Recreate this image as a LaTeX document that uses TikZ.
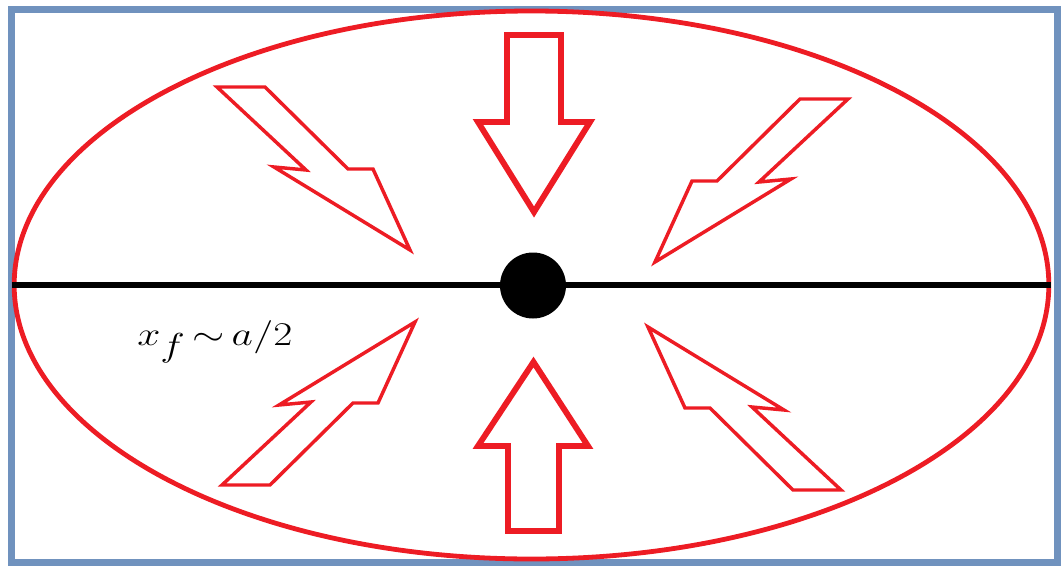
\documentclass[tikz,border=0pt]{standalone}
\usepackage{amsmath}
\usepackage{graphicx}
\usepackage{tikz}
\usetikzlibrary{shapes.geometric}
\definecolor{boltred}{RGB}{237,28,36}
\definecolor{frameblue}{RGB}{112,146,190}

\begin{document}
\begin{tikzpicture}[x=0.75pt,y=-0.75pt,line join=miter,
   frame/.style={draw=frameblue,line width=5.25pt},
   rim/.style={draw=boltred,line width=3.6pt},
   push/.style={draw=boltred,line width=4.4pt},
   boltline/.style={draw=boltred,line width=2.6pt},
   bolt/.pic={\draw[boltline] (0,0) -- (-136,-83) -- (-104,-80) -- (-193,-163)
                -- (-145,-163) -- (-62,-81) -- (-37,-81) -- cycle;}]
  \useasboundingbox (0,0) rectangle (1061,565);
  \draw[frame] (11,9) rectangle (1057,562);
  % pressure boundary and axis
  \node[ellipse,rim,minimum width=776pt,minimum height=411pt,inner sep=0pt] (blob) at (531.5,285) {};
  \draw[line width=3.8pt] (blob.west) -- (blob.east);
  \node[circle,fill=black,minimum size=49.5pt,inner sep=0pt] (core) at (533,285.5) {};
  % block arrows
  \draw[push] (507,35) -- (561,35) -- (561,122) -- (590,122) -- (534,212)
       -- (478,122) -- (507,122) -- cycle;
  \draw[push] (508,531) -- (559,531) -- (559,446) -- (588,446) -- (533.5,362)
       -- (478,446) -- (508,446) -- cycle;
  % lightning bolts
  \foreach \px/\py/\sx/\sy in {410/250/1/1,655/262/-1/1,415/322/1/-1,648/327/-1/-1}
    \pic[xscale=\sx,yscale=\sy] at (\px,\py) {bolt};
  \node[anchor=base west,inner sep=0pt,font=\fontsize{33}{40}\selectfont] (xf) at (137,345)
       {\scalebox{1.25}[1]{$x_f{\,\sim\,}a/2$}};
\end{tikzpicture}
\end{document}
